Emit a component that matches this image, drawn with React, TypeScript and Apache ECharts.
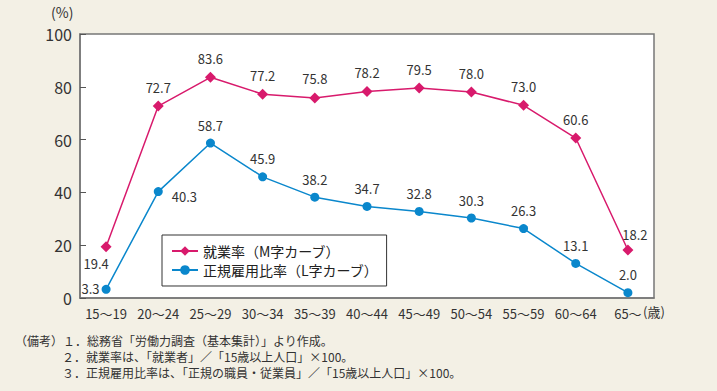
import React, { useEffect, useRef } from "react";
import * as echarts from "echarts";

const categories = ["15〜19", "20〜24", "25〜29", "30〜34", "35〜39", "40〜44", "45〜49", "50〜54", "55〜59", "60〜64", "65〜"];
const employmentRate = [19.4, 72.7, 83.6, 77.2, 75.8, 78.2, 79.5, 78.0, 73.0, 60.6, 18.2];
const regularRate = [3.3, 40.3, 58.7, 45.9, 38.2, 34.7, 32.8, 30.3, 26.3, 13.1, 2.0];
const seriesNames = ["就業率（M字カーブ）", "正規雇用比率（L字カーブ）"];
const notes = [
  "（備考）１．総務省「労働力調査（基本集計）」より作成。",
  "２．就業率は、「就業者」／「15歳以上人口」×100。",
  "３．正規雇用比率は、「正規の職員・従業員」／「15歳以上人口」×100。",
];

const PINK = "#d81a6c";
const BLUE = "#0a87cc";
const FONT = "'Noto Sans CJK JP', 'Noto Sans', sans-serif";

export default function App() {
  const ref = useRef<HTMLDivElement>(null);
  useEffect(() => {
    if (!ref.current) return;
    const chart = echarts.init(ref.current, null, { renderer: "svg" });
    const lbl = (position: any, offset?: number[]) => ({
      show: true,
      position,
      offset: offset || [0, 0],
      fontSize: 13,
      color: "#333",
      fontFamily: FONT,
      formatter: (p: any) => Number(p.value).toFixed(1),
    });
    const pinkData = employmentRate.map((v, i) => {
      if (i === 0) return { value: v, label: lbl("bottom", [-10, 0]) };
      if (i === categories.length - 1) return { value: v, label: lbl("top", [7, 2]) };
      return { value: v, label: lbl("top", [0, -2]) };
    });
    const blueData = regularRate.map((v, i) => {
      if (i === 0) return { value: v, label: lbl("left", [3, -1]) };
      if (i === 1) return { value: v, label: lbl("right", [4, 5]) };
      return { value: v, label: lbl("top", [0, -2]) };
    });
    chart.setOption({
      animation: false,
      backgroundColor: "#f3f0e5",
      textStyle: { fontFamily: FONT },
      grid: {
        left: 80, right: 63, top: 34, bottom: 93,
        show: true, backgroundColor: "#ffffff", borderColor: "#777", borderWidth: 1.5,
      },
      legend: {
        show: true,
        orient: "vertical",
        left: 162, top: 235,
        itemGap: 5,
        itemWidth: 26, itemHeight: 12,
        backgroundColor: "#ffffff",
        borderColor: "#333", borderWidth: 1,
        padding: [9, 8, 9, 9],
        textStyle: { fontSize: 14, color: "#222", fontFamily: FONT },
        data: seriesNames,
      },
      xAxis: {
        type: "category",
        data: categories,
        boundaryGap: true,
        axisLine: { lineStyle: { color: "#777", width: 1.5 } },
        axisTick: { alignWithLabel: true, inside: true, length: 6, lineStyle: { color: "#555" } },
        axisLabel: { interval: 0, fontSize: 13, color: "#333", margin: 9, fontFamily: FONT },
      },
      yAxis: {
        type: "value",
        min: 0, max: 100, interval: 20,
        splitLine: { show: false },
        axisLine: { show: true, lineStyle: { color: "#777", width: 1.5 } },
        axisTick: { show: true, inside: true, length: 6, lineStyle: { color: "#555" } },
        axisLabel: { fontSize: 16, color: "#333", margin: 8, fontFamily: FONT },
      },
      graphic: [
        { type: "text", left: 51, top: 5, style: { text: "(%)", fontSize: 14, fill: "#333", fontFamily: FONT } },
        { type: "text", left: 643, top: 305, style: { text: "(歳)", fontSize: 13, fill: "#333", fontFamily: FONT } },
        { type: "text", left: 15, top: 334, style: { text: notes[0], fontSize: 12, fill: "#333", fontFamily: FONT } },
        { type: "text", left: 62, top: 350, style: { text: notes[1], fontSize: 12, fill: "#333", fontFamily: FONT } },
        { type: "text", left: 62, top: 366, style: { text: notes[2], fontSize: 12, fill: "#333", fontFamily: FONT } },
      ],
      series: [
        {
          name: seriesNames[0],
          type: "line",
          data: pinkData,
          symbol: "diamond",
          symbolSize: 11,
          itemStyle: { color: PINK },
          lineStyle: { color: PINK, width: 1.5 },
        },
        {
          name: seriesNames[1],
          type: "line",
          data: blueData,
          symbol: "circle",
          symbolSize: 9,
          itemStyle: { color: BLUE },
          lineStyle: { color: BLUE, width: 1.5 },
        },
      ],
    });
    return () => chart.dispose();
  }, []);
  return <div ref={ref} style={{ position: "fixed", left: 0, top: 0, width: 717, height: 391 }} />;
}
